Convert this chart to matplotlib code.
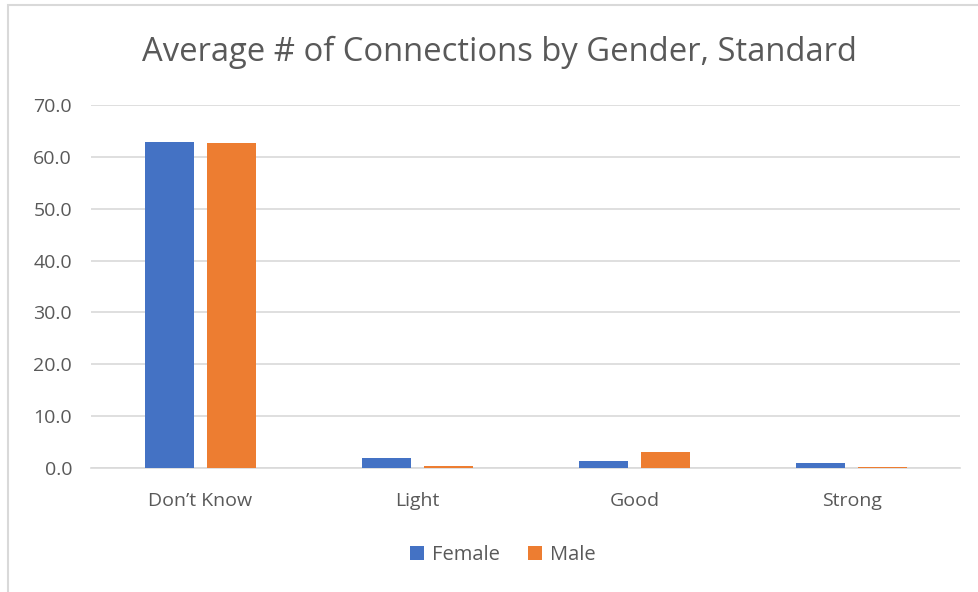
import matplotlib
matplotlib.use("Agg")
import matplotlib.pyplot as plt
import numpy as np
from matplotlib.patches import Rectangle

categories = ["Don\u2019t Know", "Light", "Good", "Strong"]
female = [62.9, 1.9, 1.4, 0.9]
male = [62.7, 0.4, 3.0, 0.2]
yticks = [0, 10, 20, 30, 40, 50, 60, 70]

W, H = 979, 592
fig = plt.figure(figsize=(W / 100, H / 100), dpi=100)
plt.rcParams["font.family"] = ["Open Sans", "DejaVu Sans"]

# chart border (top and left edges visible)
fig.add_artist(Rectangle((8 / W, -0.1), 1.2, (H - 5) / H + 0.1, transform=fig.transFigure,
                         fill=False, edgecolor="#d9d9d9", linewidth=1.5))

ax = fig.add_axes([91.5 / W, 1 - 468 / H, (960.5 - 91.5) / W, (468 - 105) / H])
x = np.arange(len(categories))
bw = 0.226
gap = 0.06
ax.bar(x - (bw + gap) / 2, female, bw, color="#4472c4", label="Female", zorder=3)
ax.bar(x + (bw + gap) / 2, male, bw, color="#ed7d31", label="Male", zorder=3)

ax.set_xlim(-0.5, len(categories) - 0.5)
ax.set_ylim(0, 70)
ax.set_yticks(yticks)
ax.set_yticklabels([f"{v:.1f}" for v in yticks])
ax.set_xticks(x)
ax.set_xticklabels(categories)
ax.yaxis.grid(True, color="#d9d9d9", linewidth=1.2, zorder=0)
ax.tick_params(axis="both", length=0, labelsize=14, labelcolor="#595959")
ax.tick_params(axis="y", pad=14)
ax.tick_params(axis="x", pad=17.5)
for s in ["top", "right", "left"]:
    ax.spines[s].set_visible(False)
ax.spines["bottom"].set_color("#d9d9d9")
ax.spines["bottom"].set_linewidth(1.2)

fig.text(499 / W, 1 - 52 / H, "Average # of Connections by Gender, Standard",
         ha="center", va="center", fontsize=23.6, color="#595959")

leg = fig.legend(loc="center", bbox_to_anchor=(503 / W, 1 - 555 / H), ncol=2, frameon=False,
                 fontsize=14.5, handlelength=0.7, handleheight=0.7, handletextpad=0.4,
                 columnspacing=1.4, labelcolor="#595959")

fig.savefig("out.png", dpi=100, facecolor="white")
